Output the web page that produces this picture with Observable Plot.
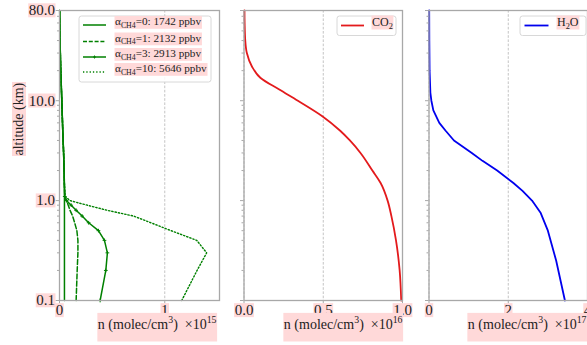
<!DOCTYPE html>
<html><head><meta charset="utf-8">
<script src="https://cdn.jsdelivr.net/npm/d3@7"></script>
<script src="https://cdn.jsdelivr.net/npm/@observablehq/plot@0.6"></script>
<style>
html,body{margin:0;padding:0;background:#fff;overflow:hidden;}
#chart{position:relative;width:587px;height:345px;}
#chart svg{position:absolute;left:0;top:0;overflow:visible;}
</style></head><body><div id="chart"></div>
<script>
// ---------- data ----------
const altCH4 = [0.1,0.2,0.3,0.4,0.5,0.6,0.7,0.8,0.9,1.0,1.1,1.5,2,3,5,10,20,40,80];
const ch4Alpha0  = [0.047,0.047,0.047,0.047,0.047,0.047,0.047,0.047,0.047,0.047,0.047,0.046,0.044,0.039,0.031,0.022,0.012,0.005,0.002];
const ch4Alpha1  = [0.158,0.168,0.175,0.175,0.165,0.144,0.125,0.100,0.083,0.066,0.050,0.046,0.044,0.039,0.031,0.022,0.012,0.005,0.002];
const ch4Alpha3  = [0.386,0.440,0.455,0.427,0.370,0.277,0.215,0.158,0.111,0.066,0.050,0.046,0.044,0.039,0.031,0.022,0.012,0.005,0.002];
const ch4Alpha10 = [1.161,1.307,1.398,1.304,1.060,0.868,0.705,0.453,0.263,0.100,0.054,0.046,0.044,0.039,0.031,0.022,0.012,0.005,0.002];
const ch4Labels = ["\u03b1_{CH4}=0: 1742 ppbv","\u03b1_{CH4}=1: 2132 ppbv","\u03b1_{CH4}=3: 2913 ppbv","\u03b1_{CH4}=10: 5646 ppbv"];

const altCO2 = [0.1,0.2,0.4,0.7,1,1.5,2,3,4,5,7,10,13,17,22,30,40,60,80];
const co2    = [0.992,0.982,0.959,0.930,0.906,0.862,0.810,0.735,0.668,0.607,0.494,0.340,0.220,0.103,0.050,0.018,0.008,0.004,0.003];

const altH2O = [0.1,0.25,0.5,0.75,1,1.25,1.5,2,2.5,3,4,5,6,8,10,12,20,40,80];
const h2o    = [3.43,3.21,3.00,2.82,2.60,2.36,2.13,1.72,1.35,1.08,0.63,0.42,0.26,0.11,0.06,0.035,0.015,0.008,0.005];

const yMajor = [0.1,1,10,80];
const yMinor = [0.2,0.3,0.4,0.5,0.6,0.7,0.8,0.9,2,3,4,5,6,7,8,9,20,30,40,50,60,70];
const xTicks1 = [0,1], xTicks2 = [0,0.5,1], xTicks3 = [0,2,4];
const xLabel1 = "n (molec/cm^{3})  \u00d710^{15}";
const xLabel2 = "n (molec/cm^{3})  \u00d710^{16}";
const xLabel3 = "n (molec/cm^{3})  \u00d710^{17}";
const yLabel = "altitude (km)";

const rows = (alts, vals) => vals.map((v,i)=>({alt: alts[i], v}));

const FONT = "Liberation Serif, Times New Roman, serif";
const SPINE = "#a8a8a8";
const GREEN = "#008000";
const RED = "#e31a1c";
const BLUE = "#0000ee";

function panel({ml, mr, xdom, xticks, xfmt, marks, showY, xlabel, labelDx}) {
  return Plot.plot({
    width: 587, height: 345,
    marginLeft: ml, marginRight: mr, marginTop: 10, marginBottom: 45,
    style: {background: "transparent", overflow: "visible", fontFamily: FONT, fontSize: "15px", color: "#222"},
    x: {domain: xdom, axis: null},
    y: {type: "log", domain: [0.1, 80], axis: null},
    marks: [
      Plot.gridX(xticks, {stroke: "#b5b5b5", strokeOpacity: 1, strokeDasharray: "2.6,1.6", strokeWidth: 0.8}),
      ...marks,
      Plot.frame({stroke: SPINE, strokeWidth: 1.3}),
      Plot.axisX({ticks: xticks, tickFormat: xfmt, tickSize: 3.5, tickPadding: 0.5, stroke: SPINE, fill: "#222", label: null, fontSize: 15}),
      Plot.axisY({ticks: yMinor, tickSize: 2, stroke: SPINE, fill: "none", label: null}),
      Plot.axisY({ticks: yMajor, tickSize: 3.5, stroke: SPINE, fill: "none", label: null}),
      ...(showY ? [Plot.text(yMajor, {x: xdom[0], y: d => d, text: d => d.toFixed(1), textAnchor: "end", dx: -4.5, fontSize: 15, fill: "#222"})] : []),
      Plot.text([xlabel], {frameAnchor: "bottom-right", dy: 28, dx: labelDx, textAnchor: "end", fontSize: 14, fill: "#222"}),
      ...(showY ? [Plot.text([yLabel], {frameAnchor: "left", dx: -41, rotate: -90, fontSize: 14, fill: "#222"})] : [])
    ]
  });
}

const p1 = panel({
  ml: 59, mr: 368, xdom: [0, 1.52], xticks: xTicks1, xfmt: d => String(d), showY: true, xlabel: xLabel1, labelDx: -3,
  marks: [
    Plot.line(rows(altCH4, ch4Alpha0), {x: "v", y: "alt", stroke: GREEN, strokeWidth: 1.5}),
    Plot.line(rows(altCH4, ch4Alpha1), {x: "v", y: "alt", stroke: GREEN, strokeWidth: 1.5, strokeDasharray: "5,2.2"}),
    Plot.line(rows(altCH4, ch4Alpha3), {x: "v", y: "alt", stroke: GREEN, strokeWidth: 1.5}),
    Plot.dot(rows(altCH4, ch4Alpha3).filter(d => d.alt <= 1.1), {x: "v", y: "alt", symbol: "plus", r: 1.3, stroke: GREEN, strokeWidth: 1}),
    Plot.line(rows(altCH4, ch4Alpha10), {x: "v", y: "alt", stroke: GREEN, strokeWidth: 1.4, strokeDasharray: "1.3,2"})
  ]
});
const p2 = panel({
  ml: 243.5, mr: 185, xdom: [0, 1.0], xticks: xTicks2, xfmt: d => d.toFixed(1), showY: false, xlabel: xLabel2, labelDx: 0,
  marks: [Plot.line(rows(altCO2, co2), {x: "v", y: "alt", stroke: RED, strokeWidth: 1.8, curve: "monotone-y"})]
});
const p3 = panel({
  ml: 428.5, mr: 0, xdom: [0, 4], xticks: xTicks3, xfmt: d => String(d), showY: false, xlabel: xLabel3, labelDx: -1,
  marks: [Plot.line(rows(altH2O, h2o), {x: "v", y: "alt", stroke: BLUE, strokeWidth: 1.8})]
});

const chart = document.getElementById("chart");
[p1, p2, p3].forEach(p => chart.appendChild(p));

// ---------- legends ----------
const NS = "http://www.w3.org/2000/svg";
function legend(svg, box, items, fontSize) {
  const g = d3.select(svg).append("g").attr("font-family", FONT).attr("font-size", fontSize).attr("text-anchor", "start");
  g.append("rect").attr("x", box.x).attr("y", box.y).attr("width", box.w).attr("height", box.h)
    .attr("rx", 2.5).attr("fill", "white").attr("fill-opacity", 0.85).attr("stroke", "#d8d8d8").attr("stroke-width", 1);
  items.forEach(it => {
    g.append("line").attr("x1", box.lx0).attr("x2", box.lx1).attr("y1", it.y).attr("y2", it.y)
      .attr("stroke", it.color).attr("stroke-width", it.width || 1.5).attr("stroke-dasharray", it.dash || null);
    if (it.marker) {
      const cx = (box.lx0 + box.lx1) / 2;
      g.append("path").attr("d", `M${cx-1.5},${it.y}h3M${cx},${it.y-1.5}v3`).attr("stroke", it.color).attr("stroke-width", 1);
    }
    g.append("text").attr("x", box.tx).attr("y", it.y).attr("dy", "0.35em").attr("fill", "#222").text(it.label);
  });
}
legend(p1, {x: 79, y: 16, w: 132, h: 66, lx0: 83, lx1: 106, tx: 115}, [
  {y: 25, color: GREEN, label: ch4Labels[0]},
  {y: 41.5, color: GREEN, dash: "4,1.8", label: ch4Labels[1]},
  {y: 57, color: GREEN, marker: true, label: ch4Labels[2]},
  {y: 72, color: GREEN, dash: "1.3,2", width: 1.4, label: ch4Labels[3]}
], 11.2);
legend(p2, {x: 337, y: 16, w: 59, h: 19.5, lx0: 341, lx1: 364, tx: 372}, [
  {y: 25.5, color: RED, width: 1.8, label: "CO_{2}"}
], 12);
legend(p3, {x: 520, y: 16, w: 66, h: 19.5, lx0: 524.5, lx1: 548.5, tx: 557}, [
  {y: 25.5, color: BLUE, width: 1.8, label: "H_{2}O"}
], 12);

// ---------- rich text (sub/superscripts) ----------
function richify(el) {
  const s = el.textContent;
  if (!/[_^]\{/.test(s)) return;
  const fs = parseFloat(getComputedStyle(el).fontSize);
  el.textContent = "";
  const parts = s.split(/([_^]\{[^}]*\})/).filter(p => p);
  let shift = 0;
  for (const p of parts) {
    const t = document.createElementNS(NS, "tspan");
    let target = 0, content = p, small = false;
    if (p.startsWith("_{")) { target = 0.25 * fs; content = p.slice(2, -1); small = true; }
    else if (p.startsWith("^{")) { target = -0.4 * fs; content = p.slice(2, -1); small = true; }
    t.setAttribute("dy", (target - shift).toFixed(2)); shift = target;
    if (small) t.setAttribute("font-size", (0.7 * fs).toFixed(2));
    t.textContent = content;
    el.appendChild(t);
  }
}
// ---------- pink text boxes (as in the reference) ----------
function pinkBox(el) {
  const b = el.getBBox();
  if (!b.width) return;
  const big = /molec/.test(el.textContent);
  const r = document.createElementNS(NS, "rect");
  const top = big ? b.y - 1 : b.y + 1;
  const h = big ? b.height + 10 : Math.max(0, b.height - 2);
  r.setAttribute("x", b.x - 0.5); r.setAttribute("y", top);
  r.setAttribute("width", b.width + 1); r.setAttribute("height", h);
  r.setAttribute("fill", "#ffd9d9"); r.setAttribute("stroke", "none");
  const tr = el.getAttribute("transform");
  if (tr) r.setAttribute("transform", tr);
  el.parentNode.insertBefore(r, el);
}
[p1, p2, p3].forEach(svg => {
  const texts = Array.from(svg.querySelectorAll("text"));
  texts.forEach(richify);
  texts.forEach(pinkBox);
});
</script></body></html>
